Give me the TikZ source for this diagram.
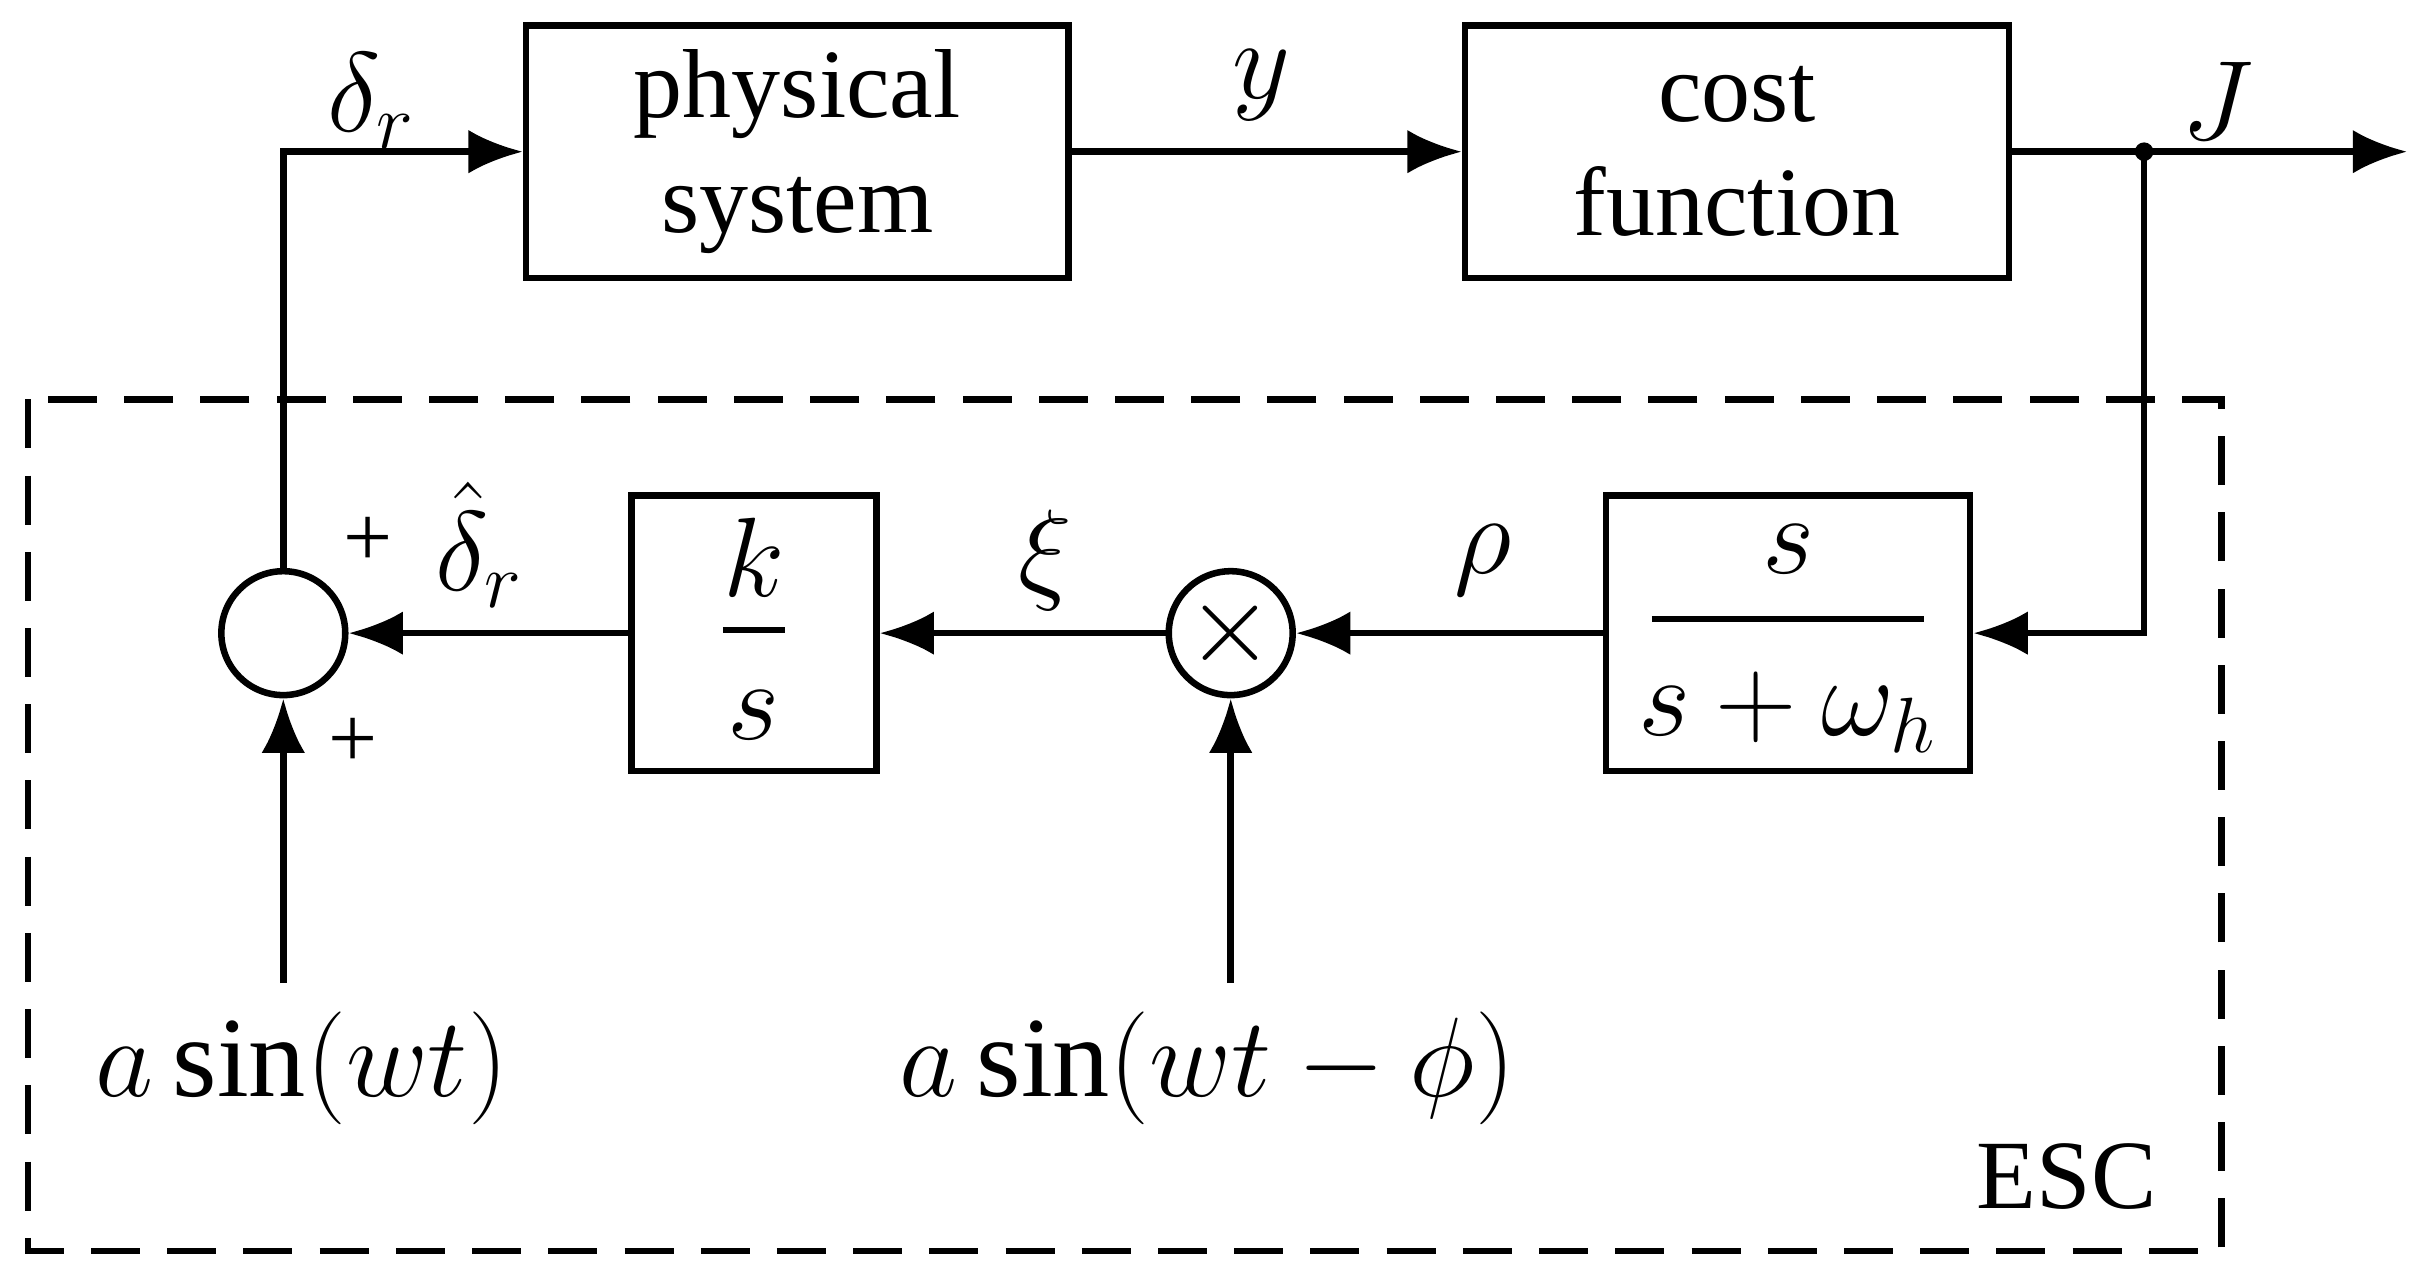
\documentclass[tikz,border=0pt]{standalone}
\usepackage{fontspec}
\setmainfont{Liberation Serif}
\usetikzlibrary{arrows.meta}
\begin{document}
\begin{tikzpicture}[x=0.01cm,y=-0.01cm,
  blk/.style={draw,line width=1.2pt,inner sep=0pt},
  ar/.style={line width=1.2pt,-{Latex[length=10pt,width=8pt]}},
  ln/.style={line width=1.2pt},
  txt/.style={font=\fontsize{18}{21}\selectfont,align=center},
  big/.style={font=\fontsize{21}{25}\selectfont}]
\useasboundingbox (0,0) rectangle (1560,822);
\node[blk,minimum width=3.5cm,minimum height=1.63cm,txt] (ps) at (515,98) {physical\\system};
\node[blk,minimum width=3.51cm,minimum height=1.63cm,txt] (cf) at (1122,98) {cost\\function};
\node[blk,minimum width=2.35cm,minimum height=1.78cm,big] (hp) at (1155,409) {};
\draw[ln] (1067,400) -- (1243,400);
\node[big] (hs) at (1155,355) {$s$};
\node[big] (hd) at (1155,460) {$s+\omega_h$};
\node[blk,minimum width=1.58cm,minimum height=1.78cm] (ks) at (487,409) {};
\draw[ln] (467,407) -- (507,407);
\node[big] (kn) at (487,360) {$k$};
\node[big] (kd) at (487,462) {$s$};
\node[draw,circle,line width=1.2pt,minimum size=0.8cm,inner sep=0pt,font=\fontsize{22}{22}\selectfont] (mul) at (795,409) {$\times$};
\node[draw,circle,line width=1.2pt,minimum size=0.8cm,inner sep=0pt] (sum) at (183,409) {};
\fill (1385,98) circle (6) coordinate (dot);
\coordinate (out) at (1555,98);
\coordinate (c1) at (183,98);
\coordinate (c2) at (1385,409);
\draw[ar] (sum.north) -- (c1) -- (ps.west);
\draw[ar] (ps.east) -- (cf.west);
\draw[ar] (cf.east) -- (out);
\draw[ar] (dot) -- (c2) -- (hp.east);
\draw[ar] (hp.west) -- (mul.east);
\draw[ar] (mul.west) -- (ks.east);
\draw[ar] (ks.west) -- (sum.east);
\node[big] (s1) at (195,690) {$a\,\mathrm{sin}\big(wt\big)$};
\node[big] (s2) at (780,690) {$a\,\mathrm{sin}\big(wt-\phi\big)$};
\draw[ar] (183,635) -- (sum.south);
\draw[ar] (795,635) -- (mul.south);
\draw[ln,dash pattern=on 9pt off 5pt] (18,258) rectangle (1435,808);
\node[big] (dr) at (240,65) {$\delta_r$};
\node[big] (yl) at (815,55) {$y$};
\node[big] (jl) at (1432,65) {$J$};
\node[big] (rho) at (958,362) {$\rho$};
\node[big] (xi) at (675,362) {$\xi$};
\node[big] (dh) at (310,352) {$\hat\delta_r$};
\node[font=\fontsize{16}{18}\selectfont] (p1) at (238,350) {+};
\node[font=\fontsize{16}{18}\selectfont] (p2) at (228,480) {+};
\node[txt] (esc) at (1335,760) {ESC};
\end{tikzpicture}
\end{document}
